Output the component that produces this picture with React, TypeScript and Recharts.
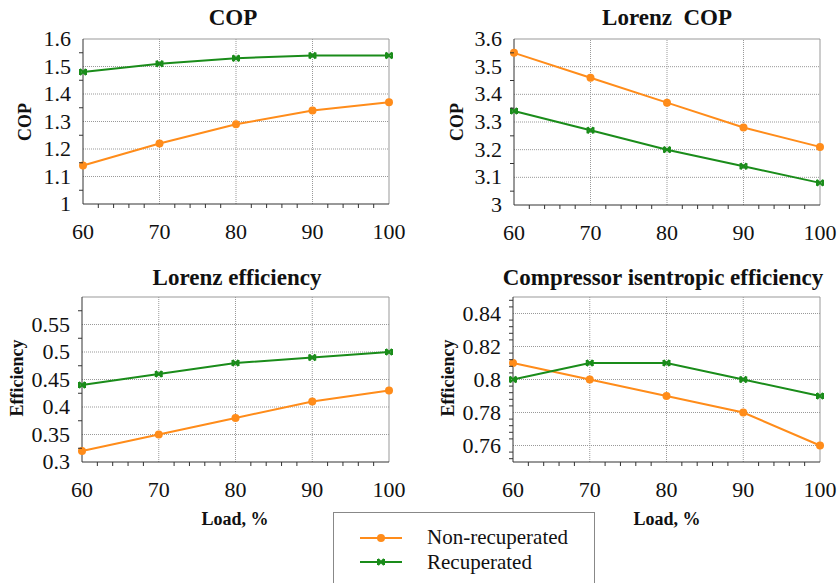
import React from "react";
import {
  LineChart,
  Line,
  XAxis,
  YAxis,
  ReferenceLine,
} from "recharts";

// loads, %
const loads = [60, 70, 80, 90, 100];
const loadMinor = [62, 64, 66, 68, 72, 74, 76, 78, 82, 84, 86, 88, 92, 94, 96, 98];

const copNonRec = [1.14, 1.22, 1.29, 1.34, 1.37];
const copRec = [1.48, 1.51, 1.53, 1.54, 1.54];

const lorenzCopNonRec = [3.55, 3.46, 3.37, 3.28, 3.21];
const lorenzCopRec = [3.34, 3.27, 3.2, 3.14, 3.08];

const lorenzEffNonRec = [0.32, 0.35, 0.38, 0.41, 0.43];
const lorenzEffRec = [0.44, 0.46, 0.48, 0.49, 0.5];

const compEffNonRec = [0.81, 0.8, 0.79, 0.78, 0.76];
const compEffRec = [0.8, 0.81, 0.81, 0.8, 0.79];

const copTicks = [1, 1.1, 1.2, 1.3, 1.4, 1.5, 1.6];
const copMinor = [1.05, 1.15, 1.25, 1.35, 1.45, 1.55];
const lorenzCopTicks = [3, 3.1, 3.2, 3.3, 3.4, 3.5, 3.6];
const lorenzCopMinor = [3.05, 3.15, 3.25, 3.35, 3.45, 3.55];
const lorenzEffTicks = [0.3, 0.35, 0.4, 0.45, 0.5, 0.55];
const lorenzEffMinor = [0.325, 0.375, 0.425, 0.475, 0.525, 0.575];
const compEffTicks = [0.76, 0.78, 0.8, 0.82, 0.84];
const compEffMinor = [
  0.752, 0.756, 0.764, 0.768, 0.772, 0.776, 0.784, 0.788, 0.792, 0.796,
  0.804, 0.808, 0.812, 0.816, 0.824, 0.828, 0.832, 0.836, 0.844, 0.848,
];

const ORANGE = "#ff8c1a";
const GREEN = "#1a8c1a";
const FONT = "'Liberation Serif', 'Times New Roman', serif";

const isMajor = (v: number, majors: number[]) =>
  majors.some((m) => Math.abs(m - v) < 1e-6);

const fmt = (v: number) => String(Number(v.toFixed(3)));

const XTick = (props: any) => {
  const { x, y, payload } = props;
  if (isMajor(payload.value, loads)) {
    return (
      <text x={x} y={y + 35} textAnchor="middle" fontSize={22} fill="#111" style={{ fontFamily: FONT }}>
        {payload.value}
      </text>
    );
  }
  return <line x1={x} x2={x} y1={y} y2={y + 4} stroke="#333" />;
};

const makeYTick = (majors: number[]) => (props: any) => {
  const { x, y, payload } = props;
  if (isMajor(payload.value, majors)) {
    return (
      <text x={x - 12} y={y + 7} textAnchor="end" fontSize={22} fill="#111" style={{ fontFamily: FONT }}>
        {fmt(payload.value)}
      </text>
    );
  }
  return <line x1={x - 4} x2={x} y1={y} y2={y} stroke="#333" />;
};

const CrossDot = (props: any) => {
  const { cx, cy } = props;
  if (cx == null || cy == null) return null;
  return (
    <g stroke={GREEN} strokeWidth={2}>
      <line x1={cx - 3} y1={cy - 3} x2={cx + 3} y2={cy + 3} />
      <line x1={cx - 3} y1={cy + 3} x2={cx + 3} y2={cy - 3} />
      <line x1={cx - 3} y1={cy - 3} x2={cx - 3} y2={cy + 3} />
      <line x1={cx + 3} y1={cy - 3} x2={cx + 3} y2={cy + 3} />
    </g>
  );
};

type PanelProps = {
  left: number;
  top: number;
  width: number;
  height: number;
  yWidth: number;
  rightPad: number;
  nonRec: number[];
  rec: number[];
  domain: [number, number];
  majors: number[];
  minors: number[];
};

const PAD_TOP = 12;

const Panel = ({ left, top, width, height, yWidth, rightPad, nonRec, rec, domain, majors, minors }: PanelProps) => {
  const data = loads.map((l, i) => ({ load: l, nonRec: nonRec[i], rec: rec[i] }));
  const yTicks = [...majors, ...minors].sort((a, b) => a - b);
  const xTicks = [...loads, ...loadMinor].sort((a, b) => a - b);
  const gridY = majors.filter((v) => v > domain[0] + 1e-6 && v < domain[1] - 1e-6);
  return (
    <div style={{ position: "absolute", left, top: top - PAD_TOP }}>
      <LineChart
        width={width}
        height={height + PAD_TOP}
        data={data}
        margin={{ top: PAD_TOP, right: rightPad, bottom: 0, left: 0 }}
      >
        {gridY.map((v) => (
          <ReferenceLine key={"h" + v} y={v} stroke="#999" strokeDasharray="1 1" />
        ))}
        {[70, 80, 90].map((v) => (
          <ReferenceLine key={"v" + v} x={v} stroke="#999" strokeDasharray="1 1" />
        ))}
        <ReferenceLine y={domain[1]} stroke="#999" />
        <ReferenceLine x={100} stroke="#999" />
        <XAxis
          dataKey="load"
          type="number"
          domain={[60, 100]}
          ticks={xTicks}
          interval={0}
          tick={XTick}
          tickLine={false}
          tickSize={0}
          tickMargin={0}
          height={46}
          stroke="#333"
        />
        <YAxis
          type="number"
          domain={domain}
          ticks={yTicks}
          interval={0}
          tick={makeYTick(majors)}
          tickLine={false}
          tickSize={0}
          tickMargin={0}
          width={yWidth}
          stroke="#333"
          allowDataOverflow
        />
        <Line
          dataKey="nonRec"
          stroke={ORANGE}
          strokeWidth={2}
          dot={{ r: 4, fill: ORANGE, stroke: ORANGE, strokeWidth: 0 }}
          isAnimationActive={false}
        />
        <Line
          dataKey="rec"
          stroke={GREEN}
          strokeWidth={2}
          dot={<CrossDot />}
          isAnimationActive={false}
        />
      </LineChart>
    </div>
  );
};

const Title = ({ x, y, children }: any) => (
  <div
    style={{
      position: "absolute",
      left: x - 250,
      top: y - 14,
      width: 500,
      textAlign: "center",
      fontFamily: FONT,
      fontWeight: "bold",
      fontSize: 23,
      lineHeight: "28px",
      color: "#111",
      whiteSpace: "pre",
    }}
  >
    {children}
  </div>
);

const AxisLabel = ({ x, y, rotate, children }: any) => (
  <div
    style={{
      position: "absolute",
      left: x - 100,
      top: y - 12,
      width: 200,
      textAlign: "center",
      fontFamily: FONT,
      fontWeight: "bold",
      fontSize: 18,
      lineHeight: "24px",
      color: "#111",
      transform: rotate ? "rotate(-90deg)" : undefined,
    }}
  >
    {children}
  </div>
);

export default function App() {
  return (
    <div style={{ position: "absolute", left: 0, top: 0, width: 838, height: 583, background: "#fff", overflow: "hidden", fontFamily: FONT }}>
      <Panel left={0} top={39} width={410} height={211} yWidth={83} rightPad={21} nonRec={copNonRec} rec={copRec} domain={[1, 1.6]} majors={copTicks} minors={copMinor} />
      <Panel left={420} top={39} width={418} height={212} yWidth={94} rightPad={18} nonRec={lorenzCopNonRec} rec={lorenzCopRec} domain={[3, 3.6]} majors={lorenzCopTicks} minors={lorenzCopMinor} />
      <Panel left={0} top={297} width={410} height={211} yWidth={82} rightPad={21} nonRec={lorenzEffNonRec} rec={lorenzEffRec} domain={[0.3, 0.6]} majors={lorenzEffTicks} minors={lorenzEffMinor} />
      <Panel left={420} top={297} width={418} height={211} yWidth={93} rightPad={18} nonRec={compEffNonRec} rec={compEffRec} domain={[0.75, 0.85]} majors={compEffTicks} minors={compEffMinor} />

      <Title x={233} y={18}>COP</Title>
      <Title x={667} y={18}>{"Lorenz  COP"}</Title>
      <Title x={237} y={278}>Lorenz efficiency</Title>
      <Title x={663} y={278}>Compressor isentropic efficiency</Title>

      <AxisLabel x={25} y={122} rotate>COP</AxisLabel>
      <AxisLabel x={457} y={122} rotate>COP</AxisLabel>
      <AxisLabel x={17} y={378} rotate>Efficiency</AxisLabel>
      <AxisLabel x={448} y={378} rotate>Efficiency</AxisLabel>
      <AxisLabel x={235} y={519}>Load, %</AxisLabel>
      <AxisLabel x={667} y={519}>Load, %</AxisLabel>

      <div
        style={{
          position: "absolute",
          left: 333,
          top: 512,
          width: 260,
          height: 90,
          border: "1px solid #888",
          background: "#fff",
        }}
      >
        <svg width={90} height={60} style={{ position: "absolute", left: 0, top: 0 }}>
          <line x1={26} x2={68} y1={25} y2={25} stroke={ORANGE} strokeWidth={2} />
          <circle cx={47} cy={25} r={4} fill={ORANGE} />
          <line x1={26} x2={68} y1={49} y2={49} stroke={GREEN} strokeWidth={2} />
          <CrossDot cx={47} cy={49} />
        </svg>
        <div style={{ position: "absolute", left: 93, top: 12, fontFamily: FONT, fontSize: 21, lineHeight: "25px", color: "#111" }}>
          Non-recuperated
          <br />
          Recuperated
        </div>
      </div>
    </div>
  );
}
